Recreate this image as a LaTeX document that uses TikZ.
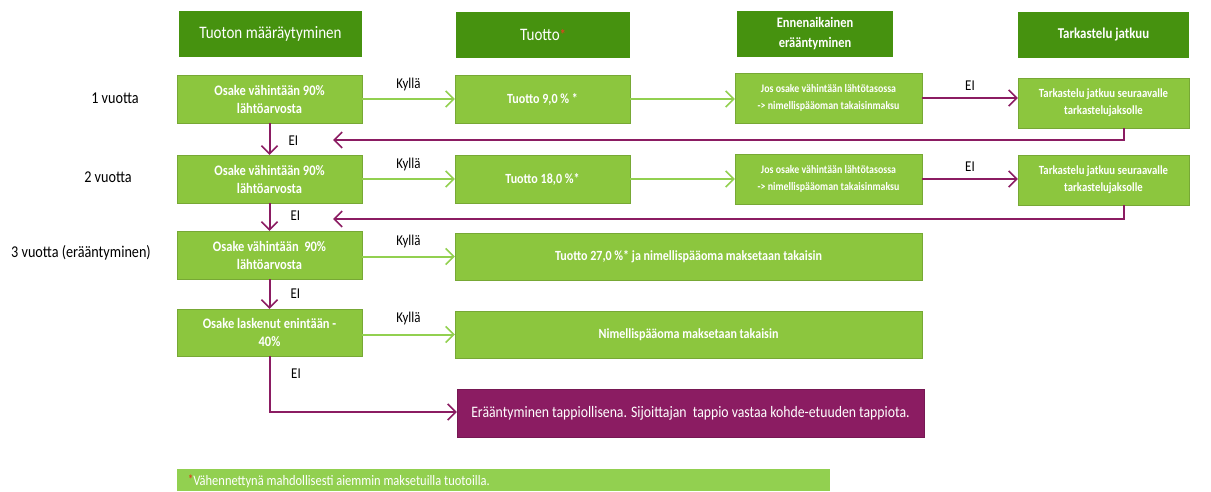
\documentclass[tikz,border=0pt]{standalone}
\usepackage{fontspec}
\setmainfont{Carlito}[FakeStretch=0.86]
\usetikzlibrary{arrows.meta,calc}
\definecolor{hdr}{HTML}{46920F}
\definecolor{box}{HTML}{8CC63E}
\definecolor{foot}{HTML}{92D050}
\definecolor{arrg}{HTML}{92D050}
\definecolor{purp}{HTML}{8B1C62}
\definecolor{star}{HTML}{D9461E}
\tikzset{
  x=1pt,y=-1pt,
  hbox/.style={fill=hdr,text=white,inner sep=0pt,align=center,font=\fontsize{17.5}{20}\selectfont},
  gbox/.style={fill=box,draw=box!85!black,line width=0.4pt,text=white,inner sep=0pt,align=center,font=\bfseries\fontsize{14.5}{18}\selectfont},
  small/.style={font=\fontsize{11.5}{17}\selectfont\bfseries},
  yes/.style={draw=arrg,line width=2pt,-{Straight Barb[length=8pt,width=16pt,line width=1.6pt]}},
  no/.style={draw=purp,line width=2pt,-{Straight Barb[length=8pt,width=16pt,line width=1.6pt]}},
  lbl/.style={text=black,inner sep=0pt,font=\fontsize{15}{17}\selectfont},
  row/.style={text=black,inner sep=0pt,font=\fontsize{16.5}{18}\selectfont}
}
\begin{document}
\begin{tikzpicture}
\useasboundingbox (0,0) rectangle (1211,492);
% headers
\node[hbox,minimum width=183,minimum height=46] (H1) at (270.5,34) {Tuoton määräytyminen};
\node[hbox,minimum width=174,minimum height=46] (H2) at (543,35) {Tuotto\textcolor{star}{\bfseries\fontsize{14}{14}\selectfont\raisebox{1pt}{*}}};
\node[hbox,minimum width=156,minimum height=46,font=\bfseries\fontsize{14.5}{20}\selectfont] (H3) at (815,34) {Ennenaikainen\\erääntyminen};
\node[hbox,minimum width=171,minimum height=46,font=\bfseries\fontsize{15}{18}\selectfont] (H4) at (1103.5,35) {Tarkastelu jatkuu};
% row labels
\node[row] (L1) at (115,98) {1 vuotta};
\node[row] (L2) at (108,177) {2 vuotta};
\node[row] (L3) at (81,253) {3 vuotta (erääntyminen)};
% row 1
\node[gbox,minimum width=185,minimum height=48] (A1) at (269.5,99) {Osake vähintään 90\%\\lähtöarvosta};
\node[gbox,minimum width=175,minimum height=48,font=\bfseries\fontsize{14}{17}\selectfont] (B1) at (542.5,99) {Tuotto 9,0 \% *};
\node[gbox,minimum width=187,minimum height=50,small] (C1) at (828.5,98) {Jos osake vähintään lähtötasossa\\-> nimellispääoman takaisinmaksu};
\node[gbox,minimum width=171,minimum height=50,font=\bfseries\fontsize{12.5}{17}\selectfont] (D1) at (1103.5,103) {Tarkastelu jatkuu seuraavalle\\tarkastelujaksolle};
% row 2
\node[gbox,minimum width=185,minimum height=48] (A2) at (269.5,179) {Osake vähintään 90\%\\lähtöarvosta};
\node[gbox,minimum width=175,minimum height=48,font=\bfseries\fontsize{14}{17}\selectfont] (B2) at (542.5,179) {Tuotto 18,0 \%*};
\node[gbox,minimum width=187,minimum height=50,small] (C2) at (828.5,179) {Jos osake vähintään lähtötasossa\\-> nimellispääoman takaisinmaksu};
\node[gbox,minimum width=171,minimum height=50,font=\bfseries\fontsize{12.5}{17}\selectfont] (D2) at (1103.5,180) {Tarkastelu jatkuu seuraavalle\\tarkastelujaksolle};
% row 3
\node[gbox,minimum width=185,minimum height=48] (A3) at (269.5,255) {Osake vähintään~~90\%\\lähtöarvosta};
\node[gbox,minimum width=467,minimum height=47,font=\bfseries\fontsize{14}{17}\selectfont] (B3) at (688.5,256.5) {Tuotto 27,0 \%* ja nimellispääoma maksetaan takaisin};
% row 4
\node[gbox,minimum width=185,minimum height=47] (A4) at (269.5,332.5) {Osake laskenut enintään -\\40\%};
\node[gbox,minimum width=467,minimum height=47,font=\bfseries\fontsize{14}{17}\selectfont] (B4) at (688.5,334.5) {Nimellispääoma maksetaan takaisin};
% loss box
\node[gbox,fill=purp,draw=purp!85!black,minimum width=467,minimum height=48,font=\fontsize{16}{18}\selectfont] (E) at (690.5,413) {Erääntyminen tappiollisena. Sijoittajan~~tappio vastaa kohde-etuuden tappiota.};
% footnote
\node[fill=foot,inner sep=0pt,minimum width=653,minimum height=22] (F) at (503.5,480) {};
\node[anchor=west,inner sep=0pt,text=white,font=\fontsize{14.5}{16}\selectfont] (FT) at (188,481) {\textcolor{star}{\bfseries\fontsize{12}{12}\selectfont\raisebox{2pt}{*}}Vähennettynä mahdollisesti aiemmin maksetuilla tuotoilla.};
% free ends
\coordinate (r1) at (333,140);
\coordinate (r2) at (333,219);
\coordinate (k4) at (269.5,412);
% yes arrows
\draw[yes] (A1.east) -- (B1.west) node[lbl,pos=0.5,above=7pt] (Y1) {Kyllä};
\draw[yes] (B1.east) -- (B1.east -| C1.west);
\draw[yes] (A2.east) -- (B2.west) node[lbl,pos=0.5,above=7pt] (Y2) {Kyllä};
\draw[yes] (B2.east) -- (B2.east -| C2.west);
\draw[yes] (A3.east |- B3.west) -- (B3.west) node[lbl,pos=0.5,above=8pt] (Y3) {Kyllä};
\draw[yes] (A4.east |- B4.west) -- (B4.west) node[lbl,pos=0.5,above=9pt] (Y4) {Kyllä};
% no arrows
\draw[no] (C1.east) -- (C1.east -| D1.west) node[lbl,pos=0.5,above=6pt] (N1) {EI};
\draw[no] (C2.east) -- (C2.east -| D2.west) node[lbl,pos=0.5,above=6pt] (N2) {EI};
\draw[no] ($(D1.south)+(20,0)$) |- (r1);
\draw[no] ($(D2.south)+(20,0)$) |- (r2);
\draw[no] (A1.south) -- (A2.north) node[lbl,pos=0.55,right=18pt] (N3) {EI};
\draw[no] (A2.south) -- (A3.north) node[lbl,pos=0.45,right=20pt] (N4) {EI};
\draw[no] (A3.south) -- (A4.north) node[lbl,pos=0.5,right=20pt] (N5) {EI};
\draw[no] (A4.south) -- (k4) -- (k4 -| E.west);
\node[lbl] (N6) at (296,374) {EI};
\end{tikzpicture}
\end{document}
